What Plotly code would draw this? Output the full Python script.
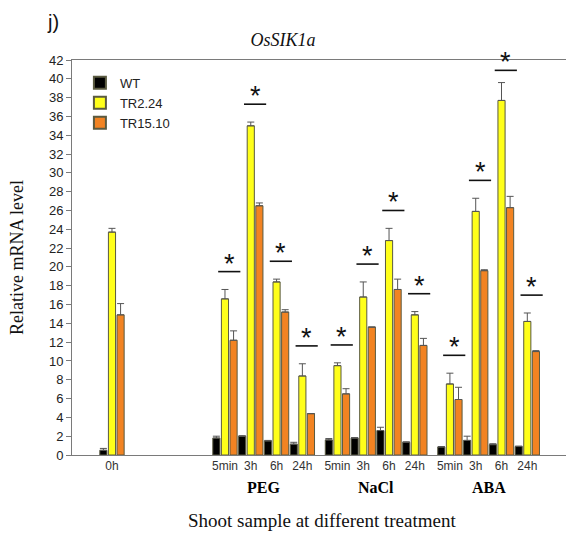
import plotly.graph_objects as go

# ---------------- data ----------------
control_label = "0h"
treatments = ["PEG", "NaCl", "ABA"]
time_points = ["5min", "3h", "6h", "24h"]
series_names = ["WT", "TR2.24", "TR15.10"]

# order: 0h, PEG(5min,3h,6h,24h), NaCl(...), ABA(...)
wt_mean = [0.5, 1.8, 2.0, 1.5, 1.15, 1.6, 1.8, 2.6, 1.35, 0.85, 1.55, 1.1, 0.9]
wt_err = [0.2, 0.2, 0.05, 0.05, 0.2, 0.15, 0.05, 0.35, 0.05, 0.05, 0.45, 0.1, 0.05]
tr224_mean = [23.7, 16.6, 35.0, 18.4, 8.4, 9.5, 16.8, 22.8, 14.9, 7.55, 25.9, 37.7, 14.2]
tr224_err = [0.4, 1.0, 0.4, 0.3, 1.3, 0.3, 1.6, 1.3, 0.35, 1.15, 1.4, 1.9, 0.9]
tr1510_mean = [14.9, 12.2, 26.5, 15.2, 4.4, 6.5, 13.6, 17.6, 11.65, 5.9, 19.6, 26.3, 11.0]
tr1510_err = [1.2, 1.0, 0.3, 0.25, 0.0, 0.55, 0.0, 1.1, 0.75, 1.3, 0.1, 1.2, 0.1]
significant = [False] + [True] * 12

# ---------------- layout constants ----------------
LEAD_GAP = 4.38      # distance from control group to first treatment group
TREAT_GAP = 0.36     # extra spacing between treatments
SANS = "Liberation Sans, Arial, sans-serif"
SERIF = "Liberation Serif, Times New Roman, serif"
AXIS_COLOR = "#7a7a7a"

positions = [0.0]
labels = [control_label]
treat_centers = []
start = LEAD_GAP
for t in treatments:
    grp = []
    for j, tp in enumerate(time_points):
        positions.append(start + j)
        labels.append(tp)
        grp.append(start + j)
    treat_centers.append(sum(grp) / len(grp))
    start += len(time_points) + TREAT_GAP

colors = ["#000000", "#FFFF1A", "#F28322"]
means = [wt_mean, tr224_mean, tr1510_mean]
errs = [wt_err, tr224_err, tr1510_err]

fig = go.Figure()
for name, c, m, e in zip(series_names, colors, means, errs):
    fig.add_trace(go.Bar(
        x=positions, y=m, name=name,
        marker=dict(color=c, line=dict(color="#5a5a40", width=1)),
        error_y=dict(type="data", array=e, arrayminus=[0] * len(e), symmetric=False,
                     color="#555555", thickness=1, width=3.5),
    ))

# significance bars and asterisks
shapes = []
annotations = []
for i, pos in enumerate(positions):
    if not significant[i]:
        continue
    top = max(tr224_mean[i] + tr224_err[i], tr1510_mean[i] + tr1510_err[i])
    ly = min(top + 1.9, 40.9)
    cx = pos + 1 / 6
    shapes.append(dict(type="line", xref="x", yref="y", x0=cx - 0.43, x1=cx + 0.43,
                       y0=ly, y1=ly, line=dict(color="#111111", width=1.6)))
    annotations.append(dict(x=cx, y=ly, xref="x", yref="y", text="*", showarrow=False,
                            yanchor="bottom", yshift=-9,
                            font=dict(family=SANS, size=27, color="#111111")))

# treatment group labels
for t, c in zip(treatments, treat_centers):
    annotations.append(dict(x=c, y=-0.083, xref="x", yref="paper", text="<b>%s</b>" % t,
                            showarrow=False, yanchor="middle",
                            font=dict(family=SERIF, size=16, color="#000000")))

# x-axis title
annotations.append(dict(x=0.506, y=-0.165, xref="paper", yref="paper",
                        text="Shoot sample at different treatment", showarrow=False,
                        yanchor="middle", font=dict(family=SERIF, size=19, color="#111111")))
# panel label
annotations.append(dict(x=-0.055, y=1.096, xref="paper", yref="paper", text="j)",
                        showarrow=False, xanchor="left", yanchor="middle",
                        font=dict(family=SANS, size=20, color="#111111")))

fig.update_layout(
    width=566, height=533,
    margin=dict(l=72, r=0, t=60, b=78),
    paper_bgcolor="white", plot_bgcolor="white",
    barmode="group", bargap=0.0, bargroupgap=0.17,
    title=dict(text="<i>OsSIK1a</i>", x=0.427, xref="paper", xanchor="center",
               y=1 - 40 / 533, yref="container", yanchor="middle",
               font=dict(family=SERIF, size=18, color="#111111")),
    legend=dict(x=0.016, y=0.98, xanchor="left", yanchor="top",
                bgcolor="rgba(0,0,0,0)", tracegroupgap=0, itemsizing="constant",
                font=dict(family=SANS, size=13, color="#222222")),
    shapes=shapes, annotations=annotations,
    xaxis=dict(range=[-1.55, 17.6], tickvals=positions, ticktext=labels,
               showline=True, linecolor=AXIS_COLOR, linewidth=1, mirror=True,
               ticks="", showgrid=False, zeroline=False,
               tickfont=dict(family=SANS, size=12, color="#333333")),
    yaxis=dict(range=[0, 42], dtick=2, tick0=0, ticks="outside", ticklen=5,
               tickcolor=AXIS_COLOR, showline=True, linecolor=AXIS_COLOR, linewidth=1,
               showgrid=False, zeroline=False,
               tickfont=dict(family=SANS, size=13, color="#222222"),
               title=dict(text="Relative mRNA level", standoff=20,
                          font=dict(family=SERIF, size=18, color="#111111"))),
)

fig.write_html(
    "out.html",
    config={"displayModeBar": False},
    post_script="document.body.style.margin='0';document.body.style.overflow='hidden';",
)
